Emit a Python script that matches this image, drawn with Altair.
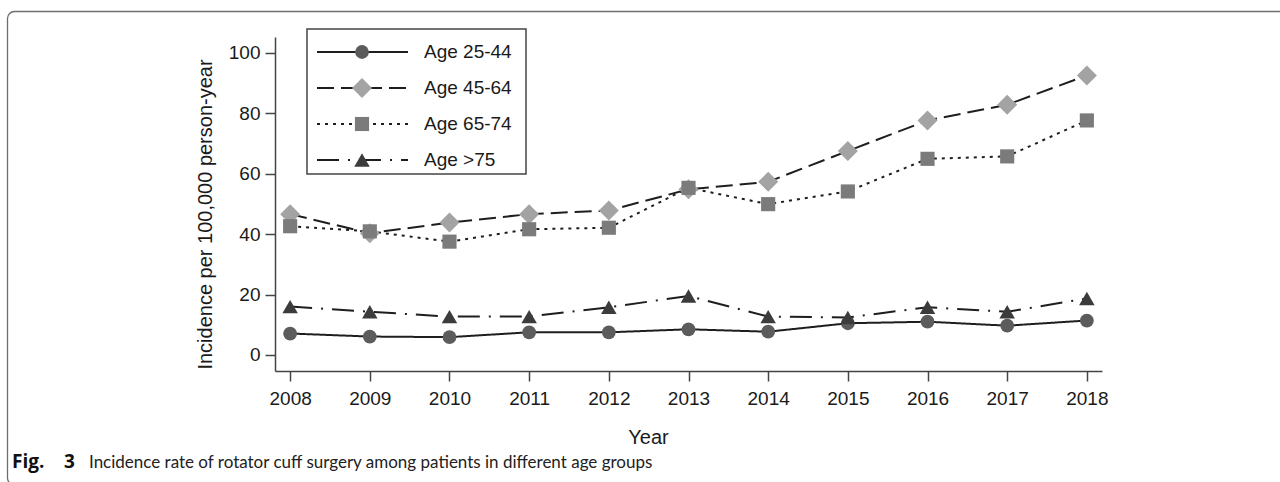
import altair as alt
import pandas as pd

# Incidence per 100,000 person-year by age group, 2008-2018
years = [2008, 2009, 2010, 2011, 2012, 2013, 2014, 2015, 2016, 2017, 2018]
groups = ["Age 25-44", "Age 45-64", "Age 65-74", "Age >75"]
age_25_44 = [7.1, 6.1, 5.9, 7.5, 7.5, 8.5, 7.7, 10.5, 11.0, 9.7, 11.4]
age_45_64 = [46.6, 40.3, 43.8, 46.6, 47.8, 54.8, 57.3, 67.5, 77.6, 82.8, 92.5]
age_65_74 = [42.6, 40.9, 37.5, 41.6, 42.1, 55.3, 49.9, 54.1, 64.9, 65.7, 77.6]
age_75_up = [16.0, 14.3, 12.7, 12.7, 15.8, 19.5, 12.7, 12.4, 15.8, 14.3, 18.7]
y_ticks = [0, 20, 40, 60, 80, 100]

series = [age_25_44, age_45_64, age_65_74, age_75_up]
rows = []
for g, vals in zip(groups, series):
    for yr, v in zip(years, vals):
        rows.append({"year": yr, "group": g, "rate": v})
df = pd.DataFrame(rows)
legend_df = pd.DataFrame({"group": groups, "row": list(range(len(groups)))})
one = pd.DataFrame({"k": [0]})

# marker / line styling per group
fills = ["#5c5c5c", "#a3a3a3", "#7b7b7b", "#3c3c3c"]
shapes = ["circle", "diamond", "square", "triangle-up"]
sizes = [190, 400, 200, 240]
dashes = [[1, 0], [17, 7], [3, 5], [22, 9, 2, 9]]

W, H = 827, 334
PAD = {"left": 275, "top": 37, "right": 178, "bottom": 111}

dash_s = alt.Scale(domain=groups, range=dashes)

x_enc = alt.X(
    "year:Q",
    scale=alt.Scale(domain=[2007.81, 2018.19], nice=False, zero=False),
    axis=alt.Axis(
        values=years, format="d", title="Year",
        titleX=373, titleY=66, titleAlign="center", titleBaseline="middle",
        labelPadding=8,
    ),
)
y_enc = alt.Y(
    "rate:Q",
    scale=alt.Scale(domain=[-5.3, 105.2], nice=False, zero=False),
    axis=alt.Axis(
        values=y_ticks, title="Incidence per 100,000 person-year",
        titleX=-70, titleY=177, titleAlign="center", titleBaseline="middle",
        labelPadding=5,
    ),
)

lines = alt.Chart(df).mark_line(strokeWidth=2, color="#1e1e1e").encode(
    x=x_enc, y=y_enc,
    detail="group:N",
    strokeDash=alt.StrokeDash("group:N", scale=dash_s, legend=None),
)
# one marker layer per age group so each keeps its own shape, size and fill
marker_layers = [
    alt.Chart(df).transform_filter(alt.datum.group == g).mark_point(
        filled=True, opacity=1, shape=shp, size=sz, fill=fc, stroke=None
    ).encode(x=x_enc, y=y_enc)
    for g, shp, sz, fc in zip(groups, shapes, sizes, fills)
]
plot = alt.layer(lines, *marker_layers)

# hand-built legend box in the upper left of the plot
row_y = alt.Y("row:O", scale=alt.Scale(type="point", domain=[0, 1, 2, 3], range=[15, 123], padding=0), axis=None)
leg_box = alt.Chart(one).mark_rect(fill="white", stroke="#444", strokeWidth=1.5).encode(
    x=alt.value(32), x2=alt.value(251), y=alt.value(-8), y2=alt.value(137)
)
leg_rules = alt.Chart(legend_df).mark_rule(strokeWidth=2, color="#1e1e1e").encode(
    x=alt.value(42), x2=alt.value(133), y=row_y,
    strokeDash=alt.StrokeDash("group:N", scale=dash_s, legend=None),
)
leg_marks = [
    alt.Chart(legend_df).transform_filter(alt.datum.group == g).mark_point(
        filled=True, opacity=1, shape=shp, size=sz, fill=fc, stroke=None
    ).encode(x=alt.value(87), y=row_y)
    for g, shp, sz, fc in zip(groups, shapes, sizes, fills)
]
leg_text = alt.Chart(legend_df).mark_text(
    align="left", baseline="middle", font="Liberation Sans", fontSize=19, color="#1a1a1a"
).encode(x=alt.value(149), y=row_y, text="group:N")
legend = alt.layer(leg_rules, *leg_marks, leg_text)

# rounded panel border and figure caption
frame = alt.Chart(one).mark_rect(
    fill=None, stroke="#6e6e6e", strokeWidth=1.3, cornerRadius=7
).encode(x=alt.value(-267.5), x2=alt.value(1030), y=alt.value(-25.5), y2=alt.value(448))
cap_fig = alt.Chart(one).mark_text(
    text="Fig.", align="left", baseline="alphabetic", font="Open Sans", fontSize=19,
    fontWeight="bold", color="#111",
).encode(x=alt.value(-263), y=alt.value(431))
cap_num = alt.Chart(one).mark_text(
    text="3", align="left", baseline="alphabetic", font="Open Sans", fontSize=19,
    fontWeight="bold", color="#111",
).encode(x=alt.value(-211), y=alt.value(431))
cap_text = alt.Chart(one).mark_text(
    text="Incidence rate of rotator cuff surgery among patients in different age groups",
    align="left", baseline="alphabetic", font="Lato", fontSize=17, color="#222",
).encode(x=alt.value(-186), y=alt.value(431))

chart = alt.layer(frame, plot, leg_box, legend, cap_fig, cap_num, cap_text).resolve_scale(
    y="independent"
).properties(
    width=W, height=H, padding=PAD, autosize=alt.AutoSizeParams(type="none"),
    background="white",
).configure_view(stroke=None).configure_axis(
    grid=False, domainColor="#444", domainWidth=1.5, tickColor="#444", tickWidth=1.5,
    tickSize=10, labelFont="Liberation Sans", labelFontSize=19, labelColor="#1a1a1a",
    titleFont="Liberation Sans", titleFontSize=20, titleFontWeight="normal", titleColor="#1a1a1a",
)

chart.save("out.html", embed_options={"renderer": "svg", "actions": False})
